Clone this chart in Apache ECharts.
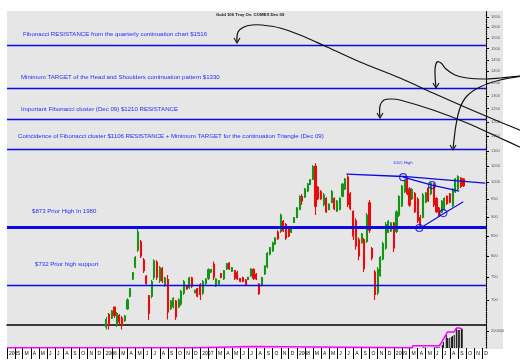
<!DOCTYPE html>
<html><head><meta charset="utf-8">
<script src="https://cdn.jsdelivr.net/npm/echarts@6/dist/echarts.min.js"></script>
<style>html,body{margin:0;padding:0;background:#fff}#c{width:520px;height:362px}</style>
</head><body><div id="c"></div><script>
// ---- data (Gold 100 Troy Oz. COMEX Dec 09, ~10-day bars) ----
const barDates = ['2006-01-11','2006-01-21','2006-02-01','2006-02-11','2006-02-21','2006-03-01','2006-03-11','2006-03-21','2006-04-01','2006-04-11','2006-04-21','2006-05-01','2006-05-11','2006-05-21','2006-06-01','2006-06-11','2006-06-21','2006-07-01','2006-07-11','2006-07-21','2006-08-01','2006-08-11','2006-08-21','2006-09-01','2006-09-11','2006-09-21','2006-10-01','2006-10-11','2006-10-21','2006-11-01','2006-11-11','2006-11-21','2006-12-01','2006-12-11','2006-12-21','2007-01-01','2007-01-11','2007-01-21','2007-02-01','2007-02-11','2007-02-21','2007-03-01','2007-03-11','2007-03-21','2007-04-01','2007-04-11','2007-04-21','2007-05-01','2007-05-11','2007-05-21','2007-06-01','2007-06-11','2007-06-21','2007-07-01','2007-07-11','2007-07-21','2007-08-01','2007-08-11','2007-08-21','2007-09-01','2007-09-11','2007-09-21','2007-10-01','2007-10-11','2007-10-21','2007-11-01','2007-11-11','2007-11-21','2007-12-01','2007-12-11','2007-12-21','2008-01-01','2008-01-11','2008-01-21','2008-02-01','2008-02-11','2008-02-21','2008-03-01','2008-03-11','2008-03-21','2008-04-01','2008-04-11','2008-04-21','2008-05-01','2008-05-11','2008-05-21','2008-06-01','2008-06-11','2008-06-21','2008-07-01','2008-07-11','2008-07-21','2008-08-01','2008-08-11','2008-08-21','2008-09-01','2008-09-11','2008-09-21','2008-10-01','2008-10-11','2008-10-21','2008-11-01','2008-11-11','2008-11-21','2008-12-01','2008-12-11','2008-12-21','2009-01-01','2009-01-11','2009-01-21','2009-02-01','2009-02-11','2009-02-21','2009-03-01','2009-03-11','2009-03-21','2009-04-01','2009-04-11','2009-04-21','2009-05-01','2009-05-11','2009-05-21','2009-06-01','2009-06-11','2009-06-21','2009-07-01','2009-07-11','2009-07-21','2009-08-01','2009-08-11','2009-08-21','2009-09-01','2009-09-11','2009-09-21'];
const opens  = [645,670,663,685,650,668,663,658,682,708,746,774,815,835,790,752,709,708,750,785,742,770,732,745,682,686,698,686,692,715,731,728,748,716,724,733,715,736,748,762,780,731,735,758,747,769,783,764,765,760,747,749,744,745,753,768,757,735,733,758,775,805,813,830,860,862,888,880,870,860,886,899,922,958,957,974,994,1010,1050,985,972,935,952,921,942,952,917,922,959,980,1016,966,915,890,840,833,840,836,940,818,762,716,754,793,820,860,863,884,862,905,932,972,1010,980,952,966,950,898,900,942,982,966,994,952,925,914,922,959,965,932,972,980,1013,1010];
const closes = [660,650,677,668,672,655,648,667,700,724,760,796,860,800,765,736,672,740,788,750,772,742,748,675,698,703,665,700,718,740,724,748,730,721,709,712,740,746,767,768,750,746,742,750,765,781,770,772,748,747,741,741,734,750,769,748,746,714,749,776,806,820,832,845,843,905,864,845,850,871,898,925,958,945,980,995,1008,1048,930,952,952,962,915,936,972,923,944,952,994,1010,935,925,850,825,800,855,770,905,865,795,712,768,796,830,880,888,884,820,914,958,988,1004,966,934,978,915,890,878,962,968,946,997,934,915,903,944,952,938,942,978,1010,1018,988,990];
const lows   = [640,640,661,663,645,650,640,655,679,706,744,771,810,795,760,733,659,704,744,744,737,737,728,660,679,683,659,683,688,711,722,724,726,715,706,700,711,733,744,760,744,728,733,748,744,767,767,762,744,744,739,739,731,744,751,744,744,711,730,755,771,802,810,827,840,858,860,840,847,858,884,897,919,934,954,971,992,1007,906,948,948,930,911,919,939,919,914,919,956,977,928,919,840,815,790,830,762,832,858,790,700,711,751,790,815,858,860,810,858,900,928,968,962,928,948,911,884,868,897,939,942,962,928,911,900,911,919,934,939,928,968,977,983,986];
const highs  = [665,673,679,687,675,671,667,669,704,726,762,800,871,840,795,755,711,744,792,790,776,774,751,755,700,706,700,704,722,744,733,751,751,722,726,737,744,748,771,769,787,748,744,760,767,783,785,774,767,765,748,751,746,751,771,771,760,737,751,778,810,822,835,847,865,910,892,884,873,873,900,928,962,965,983,998,1010,1054,1060,989,977,968,956,939,977,956,948,956,998,1013,1022,971,919,897,847,858,845,911,948,822,767,774,800,835,887,892,887,887,919,962,992,1008,1016,986,983,971,956,906,968,971,986,1001,998,956,928,948,956,962,968,983,1013,1022,1016,1013];

const volDates = ['2009-04-22','2009-04-29','2009-06-03','2009-06-10','2009-06-14','2009-06-21','2009-07-03','2009-07-07','2009-07-18','2009-07-22','2009-07-29','2009-08-06','2009-08-10','2009-08-17','2009-08-25','2009-09-01','2009-09-05','2009-09-13','2009-09-16'];
const volumes  = [10000,10000,8000,8000,8000,8000,35000,70000,153000,118000,118000,129000,141000,153000,235000,212000,212000,235000,224000];
const oiDates  = ['2005-01-01','2006-12-14','2006-12-15','2007-07-17','2007-07-18','2009-03-12','2009-03-13','2009-06-22','2009-06-29','2009-07-10','2009-07-22','2009-08-17','2009-08-25','2009-09-05','2009-09-16'];
const openInterest = [2000,2000,17000,17000,2000,2000,26000,26000,59000,118000,188000,188000,235000,235000,224000];

const priceTicks = [700,750,800,850,900,950,1000,1050,1100,1150,1200,1250,1300,1350,1400,1450,1500,1550,1600,1650];
const volumeTicks = [200000];
const levels = [1516,1330,1210,1106,873,732];

// triangle / resistance annotations (date, price)
const resDates = ['2008-07-06','2009-02-05','2009-12-12'];
const resPrices = [1025,1018,998];
const triTopDates = ['2009-02-05','2009-05-25','2009-09-05'];
const triTopPrices = [1016,992,974];
const triLowDates = ['2009-04-07','2009-07-07','2009-09-20'];
const triLowPrices = [869,909,943];
const circleDates = ['2009-02-05','2009-05-25','2009-04-07','2009-07-07'];
const circlePrices = [1016,992,871,911];

const notes = [
  'Fibonacci RESISTANCE from the quarterly continuation chart $1516',
  'Minimum TARGET of the Head and Shoulders continuation pattern $1330',
  'Important Fibonacci cluster (Dec 09) $1210 RESISTANCE',
  'Coincidence of Fibonacci cluster $1106 RESISTANCE + Minimum TARGET for the continuation Triangle (Dec 09)',
  '$873 Prior High In 1980',
  '$732 Prior high support'
];
const titleText = 'Gold 100 Troy Oz. COMEX Dec 09';
const highNote = '1015 High';
const monthInitials = ['J','F','M','A','M','J','J','A','S','O','N','D'];

// ---- build ----
const T = (d)=>Date.parse(d + 'T00:00:00Z');
const monthStarts = [];
for (let y = 2005; y <= 2009; y++) for (let m = 1; m <= 12; m++) monthStarts.push(T(y + '-' + String(m).padStart(2,'0') + '-01'));

const candles = barDates.map((d,i)=>[T(d), opens[i], closes[i], lows[i], highs[i]]);
const zip = (a,b)=>a.map((d,i)=>[T(d),b[i]]);
const BLUE = '#0a0ae6';
const GREEN = '#169416', RED = '#e80c0c';
const XMIN = T('2005-01-01'), XMAX = T('2009-12-15');

const noteLayout = [[23,34],[21,77],[21,109],[18,136],[32,211],[35,264]];
const levelStyle = [1.4,1.4,1.4,1.4,3.2,1.4];

const chart = echarts.init(document.getElementById('c'), null, {renderer:'canvas'});
const curve = (pts)=>({type:'polyline', z:100, shape:{points:pts, smooth:0.35}, style:{stroke:'#111', lineWidth:1.2, fill:null}});
const head = (x,y)=>({type:'polyline', z:100, shape:{points:[[x-3,y-5],[x,y],[x+3,y-5]]}, style:{stroke:'#111', lineWidth:1.1, fill:null}});

const hiddenX = (gi)=>({type:'value', gridIndex:gi, min:XMIN, max:XMAX, axisLine:{show:false}, axisTick:{show:false}, axisLabel:{show:false}, splitLine:{show:false}});
const plain = (v)=>String(Math.round(v));

chart.setOption({
  animation:false,
  backgroundColor:'#fff',
  textStyle:{fontFamily:'Liberation Sans'},
  graphic:[
    {type:'rect', z:-10, shape:{x:7,y:11,width:496,height:338}, style:{fill:'#e6e6e6'}},
    {type:'text', z:50, x:216, y:15, style:{text:titleText, fill:'#111', fontSize:4.3, fontWeight:'bold', fontFamily:'Liberation Sans', verticalAlign:'middle'}},
    ...notes.map((t,i)=>({type:'text', z:50, x:noteLayout[i][0], y:noteLayout[i][1], style:{text:t, fill:'#2a2aff', fontSize:6.1, fontFamily:'Liberation Sans', verticalAlign:'middle'}})),
    {type:'text', z:50, x:393, y:163, style:{text:highNote, fill:'#2a2aff', fontSize:4.3, fontFamily:'Liberation Sans', verticalAlign:'middle'}},
    curve([[237,42],[238,32],[244,27],[252,25],[262,25],[280,28],[300,35],[327,47],[360,62],[400,78],[433,93],[467,108],[500,122],[522,131]]),
    head(237,43),
    curve([[436,87],[435,70],[437,62],[441,63],[446,69],[455,75],[467,78],[483,79],[500,78],[522,76]]),
    head(436,88),
    curve([[380,117],[380,106],[384,100],[392,99],[400,100],[433,110],[467,123],[500,138],[522,148]]),
    head(380,118),
    curve([[522,76],[500,80],[480,87],[467,96],[460,108],[456,125],[454,140],[453,149]]),
    head(453,150)
  ],
  grid:[
    {left:7, right:34, top:11, height:314},
    {left:7, right:34, top:325, height:23}
  ],
  xAxis:[
    hiddenX(0),
    {type:'value', gridIndex:1, min:XMIN, max:XMAX, position:'bottom',
      axisLine:{show:false},
      axisTick:{show:true, customValues:monthStarts, length:11, lineStyle:{color:'#000', width:1}},
      axisLabel:{show:true, customValues:monthStarts, fontSize:5, color:'#000', align:'left', margin:3, padding:[0,0,0,2],
        formatter:(v)=>{const d=new Date(v); const m=d.getUTCMonth(); return m===0?String(d.getUTCFullYear()):(m===1?'':monthInitials[m]);}},
      splitLine:{show:false}},
    Object.assign(hiddenX(1), {position:'top', axisLine:{show:true, lineStyle:{color:'#000', width:1.5}}})
  ],
  yAxis:[
    {type:'log', gridIndex:0, min:649, max:1681, position:'right',
      axisLine:{show:true, lineStyle:{color:'#000', type:'dotted', width:1.2}},
      axisTick:{show:true, customValues:priceTicks, length:3, lineStyle:{color:'#000'}},
      axisLabel:{show:true, customValues:priceTicks, fontSize:4, color:'#555', margin:5, formatter:plain},
      splitLine:{show:false}},
    {type:'value', gridIndex:1, min:0, max:270000, position:'right',
      axisLine:{show:true, lineStyle:{color:'#000', type:'dotted', width:1.2}},
      axisTick:{show:true, customValues:volumeTicks, length:3, lineStyle:{color:'#000'}},
      axisLabel:{show:true, customValues:volumeTicks, fontSize:4, color:'#555', margin:5, formatter:plain},
      splitLine:{show:false}}
  ],
  series:[
    {type:'candlestick', xAxisIndex:0, yAxisIndex:0, data:candles, encode:{x:0, y:[1,2,3,4]}, barWidth:1.6, clip:true,
      itemStyle:{color:GREEN, color0:RED, borderColor:GREEN, borderColor0:RED, borderWidth:1.1},
      markLine:{silent:true, symbol:['none','none'], label:{show:false}, animation:false,
        data: levels.map((v,i)=>({yAxis:v, lineStyle:{color:BLUE, width:levelStyle[i], type:'solid'}}))}
    },
    {type:'line', xAxisIndex:0, yAxisIndex:0, data:zip(resDates,resPrices), symbol:'none', lineStyle:{color:BLUE, width:1.3}, z:5},
    {type:'line', xAxisIndex:0, yAxisIndex:0, data:zip(triTopDates,triTopPrices), symbol:'none', lineStyle:{color:BLUE, width:1.3}, z:5},
    {type:'line', xAxisIndex:0, yAxisIndex:0, data:zip(triLowDates,triLowPrices), symbol:'none', lineStyle:{color:BLUE, width:1.1}, z:5},
    {type:'scatter', xAxisIndex:0, yAxisIndex:0, data:zip(circleDates,circlePrices), symbol:'circle', symbolSize:7, z:6,
      itemStyle:{color:'rgba(0,0,0,0)', borderColor:BLUE, borderWidth:1.1}},
    {type:'bar', xAxisIndex:1, yAxisIndex:1, data:zip(volDates,volumes), barWidth:1, itemStyle:{color:'#000'}},
    {type:'line', xAxisIndex:1, yAxisIndex:1, data:zip(oiDates,openInterest), symbol:'none', lineStyle:{color:'#ff00ff', width:1.5}, z:4}
  ]
});
</script></body></html>
